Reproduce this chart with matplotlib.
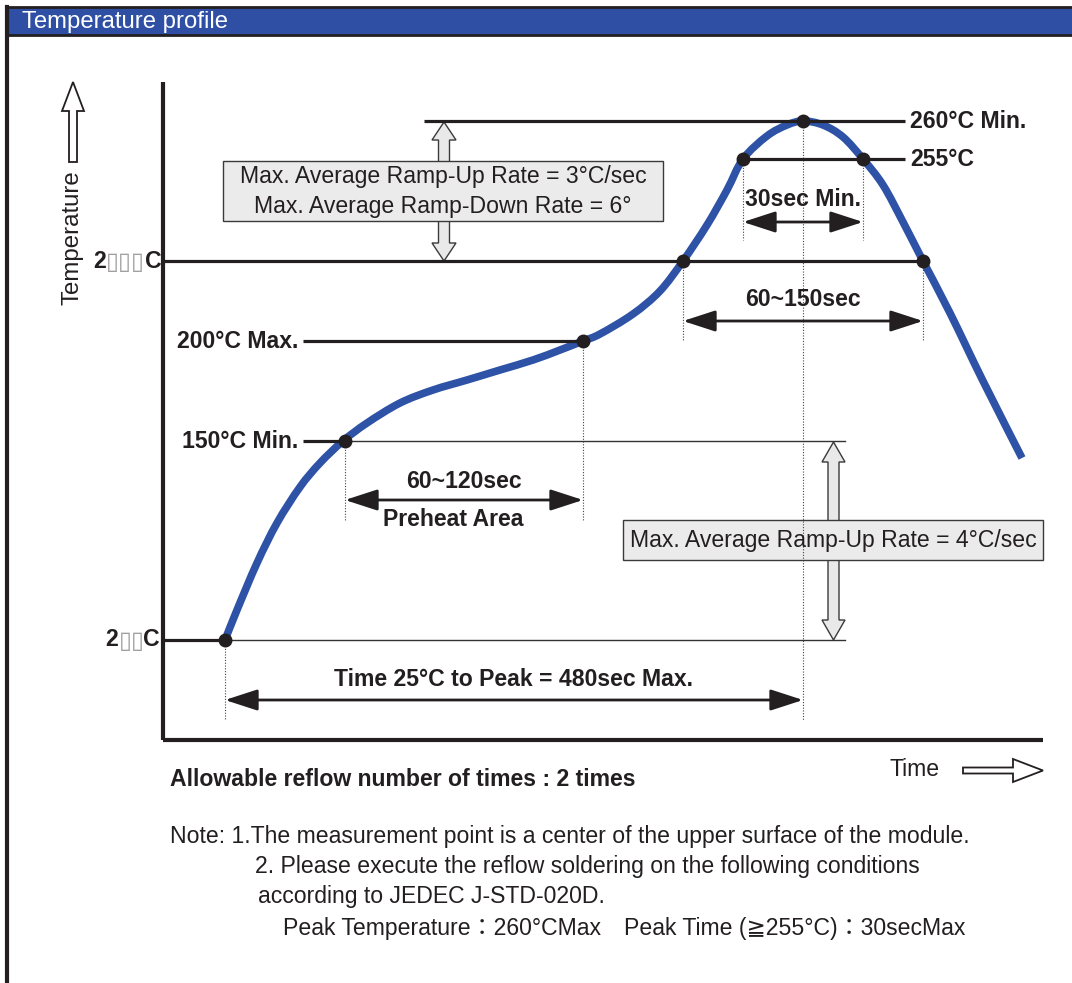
import matplotlib
matplotlib.use("Agg")
import matplotlib.pyplot as plt
from matplotlib.patches import Rectangle, FancyArrow, PathPatch
from matplotlib.path import Path

plt.rcParams['font.family'] = ['Liberation Sans', 'DejaVu Sans', 'Noto Sans CJK JP']

# reflow profile (schematic units: x = time, y = height on the sheet)
curve_x = [225, 237, 257, 277, 300, 320, 343, 367, 400, 433, 467, 500, 533, 560, 583,
           600, 633, 660, 683, 707, 727, 743, 767, 787, 803, 823, 843, 863, 883, 903,
           923, 950, 983, 1022]
curve_y = [640, 610, 563, 523, 487, 463, 441, 423, 403, 390, 380, 370, 360, 350, 341,
           334, 314, 291, 261, 225, 190, 159, 136, 125, 121, 125, 137, 159, 185, 222,
           261, 313, 381, 458]

# marked points on the curve
dot_x = [225, 345, 583, 683, 743, 803, 863, 923]
dot_y = [640, 441, 341, 261, 159, 121, 159, 261]

# temperature levels
level_y = {'260': 121, '255': 159, '217': 261, '200': 341, '150': 441, '25': 640}
level_text = {'260': '260°C Min.', '255': '255°C', '200': '200°C Max.', '150': '150°C Min.'}

# time spans (start, end, height, label, label height)
spans = [(743, 863, 222, '30sec Min.', 199),
         (683, 923, 321, '60~150sec', 299),
         (345, 583, 500, '60~120sec', 481),
         (225, 803, 700, 'Time 25°C to Peak = 480sec Max.', 680)]

notes = ['Note: 1.The measurement point is a center of the upper surface of the module.',
         '2. Please execute the reflow soldering on the following conditions',
         'according to JEDEC J-STD-020D.',
         'Peak Temperature\uff1a260°CMax\u3000Peak Time (\u2267255°C)\uff1a30secMax']

W, H = 1072, 983
fig = plt.figure(figsize=(W / 100, H / 100), dpi=100)
ax = fig.add_axes([0, 0, 1, 1])
ax.set_xlim(0, W)
ax.set_ylim(H, 0)
ax.axis('off')

ink = '#231f20'
blue = '#2e52a5'
fs = 16.6

# header bar and frame
ax.add_patch(Rectangle((7, 7), W - 7, 28, fc='#2e4fa3', ec='none'))
ax.plot([7, W], [7, 7], color=ink, lw=2)
ax.plot([7, W], [35, 35], color=ink, lw=2)
ax.plot([7, 7], [7, H], color=ink, lw=3)
ax.text(22, 22, 'Temperature profile', color='white', fontsize=17.2, va='center')

# axes of the diagram
ax.plot([163, 163], [82, 740], color=ink, lw=3, solid_capstyle='butt')
ax.plot([163, 1043], [740, 740], color=ink, lw=3, solid_capstyle='butt')

# hollow arrows for axis names
ax.add_patch(FancyArrow(73, 162, 0, -80, width=8, head_width=22, head_length=29,
                        length_includes_head=True, fc='white', ec=ink, lw=1.3))
ax.text(73, 238, 'Temperature', rotation=90, fontsize=17.3, color=ink, ha='center', va='center')
ax.add_patch(FancyArrow(963, 770.5, 80, 0, width=6, head_width=23, head_length=30,
                        length_includes_head=True, fc='white', ec=ink, lw=1.3))
ax.text(889, 770, 'Time', fontsize=fs, color=ink, ha='left', va='center')

# dotted guides
vx = [225, 345, 583, 683, 923, 743, 863, 803]
vtop = [640, 441, 341, 261, 261, 159, 159, 121]
vbot = [720, 520, 520, 340, 340, 240, 240, 720]
for x, a, b in zip(vx, vtop, vbot):
    ax.plot([x, x], [a, b], color='#444444', lw=0.8, ls=(0, (1, 1.5)))

# level lines
thick = dict(color=ink, lw=2.3, solid_capstyle='butt')
thin = dict(color='#333333', lw=1.0)
ax.plot([424, 905], [level_y['260']] * 2, **thick)
ax.plot([743, 905], [level_y['255']] * 2, **thick)
ax.plot([163, 923], [level_y['217']] * 2, **thick)
ax.plot([303, 583], [level_y['200']] * 2, **thick)
ax.plot([303, 345], [level_y['150']] * 2, **thick)
ax.plot([345, 845], [level_y['150']] * 2, **thin)
ax.plot([163, 225], [level_y['25']] * 2, **thick)
ax.plot([225, 845], [level_y['25']] * 2, **thin)

bold = dict(fontsize=fs, fontweight='bold', color=ink, va='center')
ax.text(910, level_y['260'], level_text['260'], ha='left', **bold)
ax.text(910, level_y['255'], level_text['255'], ha='left', **bold)
ax.text(298, level_y['200'], level_text['200'], ha='right', **bold)
ax.text(298, level_y['150'], level_text['150'], ha='right', **bold)

# labels with missing glyphs (shown as empty boxes)
box = dict(fontsize=17, color='#a0a0a0', va='center', ha='left', family='DejaVu Sans')
ax.text(106, level_y['217'], '2', ha='right', **bold)
ax.text(106, level_y['217'] + 1, '\u25af\u25af\u25af', **box)
ax.text(145, level_y['217'], 'C', ha='left', **bold)
ax.text(118, level_y['25'], '2', ha='right', **bold)
ax.text(119, level_y['25'] + 1, '\u25af\u25af', **box)
ax.text(143, level_y['25'], 'C', ha='left', **bold)

# span arrows
for x0, x1, y, lab, ly in spans:
    ax.annotate('', xy=(x1, y), xytext=(x0, y),
                arrowprops=dict(arrowstyle='<|-|>,head_length=0.8,head_width=0.26',
                                color=ink, lw=2, mutation_scale=25,
                                shrinkA=0, shrinkB=0))
    ax.text((x0 + x1) / 2, ly, lab, ha='center', **bold)
ax.text(453, 520, 'Preheat Area', ha='center', **bold)

# ramp rate boxes with hollow double arrows
def double_arrow(x, top, bot, width, hw, hl):
    mid = (top + bot) / 2
    for end in (top, bot):
        ax.add_patch(FancyArrow(x, mid, 0, end - mid, width=width, head_width=hw,
                                head_length=hl, length_includes_head=True,
                                fc='#e9e9ea', ec='#3a3a3a', lw=1.0))

double_arrow(444, 122, 261, 11, 24, 18)
ax.add_patch(Rectangle((223, 161), 440, 60, fc='#ebebec', ec='#3a3a3a', lw=1.0))
ax.text(443, 176, 'Max. Average Ramp-Up Rate = 3°C/sec', fontsize=fs, color=ink,
        ha='center', va='center')
ax.text(443, 206, 'Max. Average Ramp-Down Rate = 6°', fontsize=fs, color=ink,
        ha='center', va='center')

double_arrow(833.5, 442, 640, 11, 23, 20)
ax.add_patch(Rectangle((623, 520), 420, 40, fc='#ebebec', ec='#3a3a3a', lw=1.0))
ax.text(833, 540, 'Max. Average Ramp-Up Rate = 4°C/sec', fontsize=fs, color=ink,
        ha='center', va='center')

# the profile curve: smooth bezier path through the read points
pts = list(zip(curve_x, curve_y))
verts = [pts[0]]
codes = [Path.MOVETO]
for i in range(len(pts) - 1):
    p0 = pts[max(i - 1, 0)]
    p1 = pts[i]
    p2 = pts[i + 1]
    p3 = pts[min(i + 2, len(pts) - 1)]
    c1 = (p1[0] + (p2[0] - p0[0]) / 6, p1[1] + (p2[1] - p0[1]) / 6)
    c2 = (p2[0] - (p3[0] - p1[0]) / 6, p2[1] - (p3[1] - p1[1]) / 6)
    verts += [c1, c2, p2]
    codes += [Path.CURVE4] * 3
ax.add_patch(PathPatch(Path(verts, codes), fill=False, ec=blue, lw=5.5, capstyle='butt'))
ax.plot(dot_x, dot_y, 'o', color=ink, ms=9, zorder=5)

# notes under the chart
ax.text(170, 780, 'Allowable reflow number of times : 2 times', ha='left', **bold)
ax.text(170, 836, notes[0], fontsize=fs, color=ink, ha='left', va='center')
ax.text(255, 867, notes[1], fontsize=fs, color=ink, ha='left', va='center')
ax.text(258, 897, notes[2], fontsize=fs, color=ink, ha='left', va='center')
ax.text(283, 928, notes[3], fontsize=fs, color=ink, ha='left', va='center')

fig.savefig('out.png', dpi=100)
